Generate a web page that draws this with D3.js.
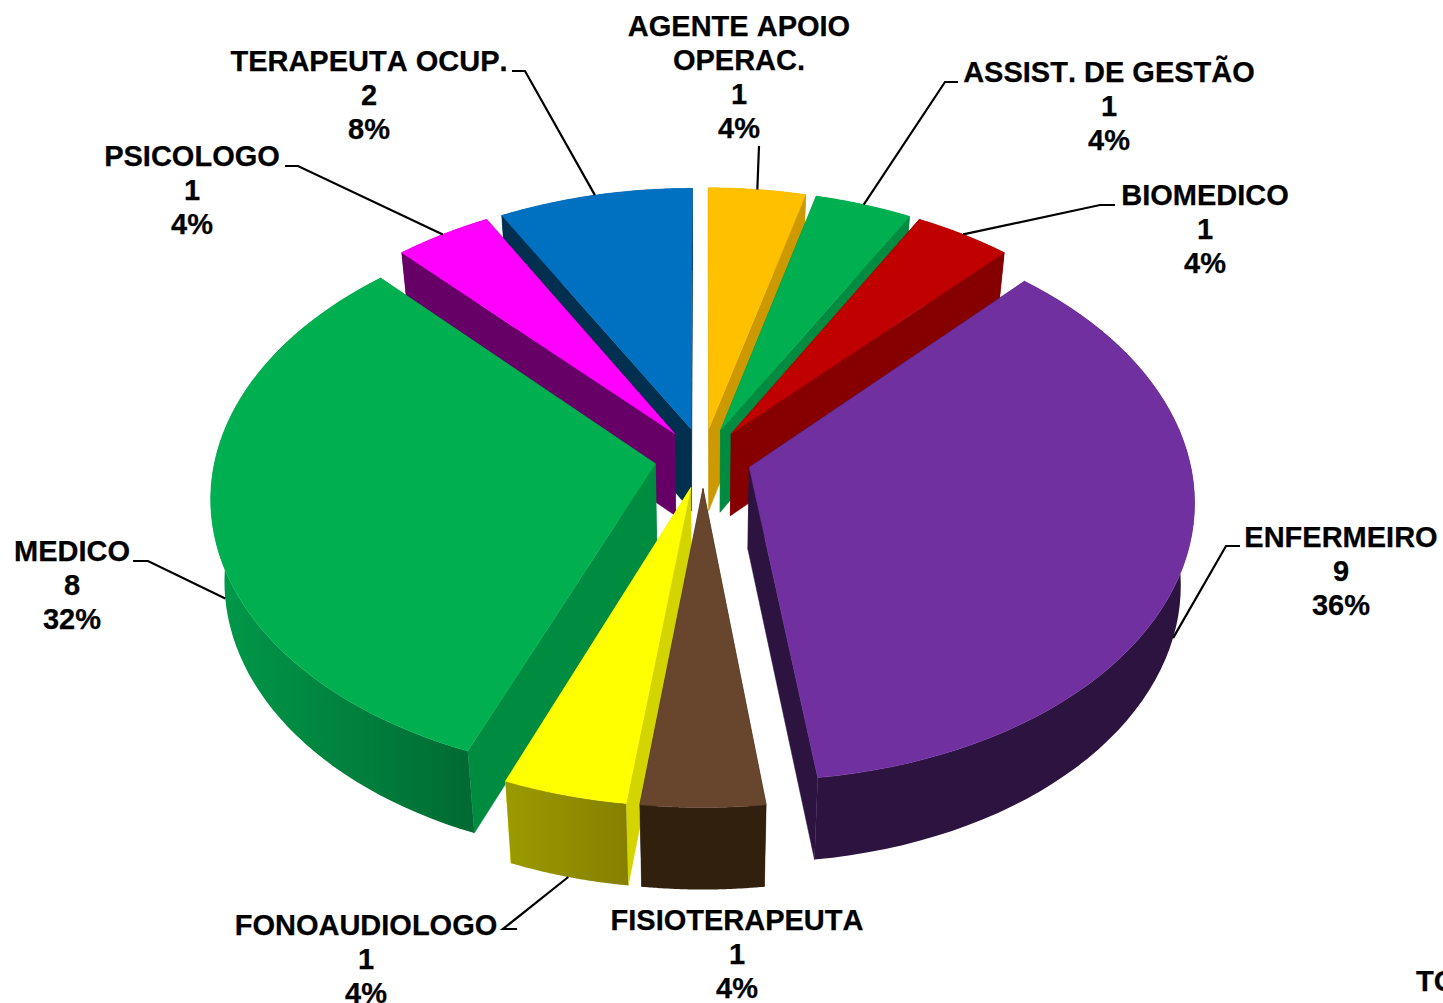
<!DOCTYPE html>
<html><head><meta charset="utf-8">
<script src="https://cdn.jsdelivr.net/npm/d3@7"></script>
<style>
html,body{margin:0;padding:0;background:#fff;overflow:hidden}
svg{display:block}
text{font-family:"Liberation Sans",Arial,sans-serif;font-weight:700;font-size:29px;font-kerning:none;fill:#000;stroke:#000;stroke-width:0.25px;text-anchor:middle}
</style></head><body>
<svg id="c" width="1443" height="1003"></svg>
<script>
// ---- data ----
const categories = ["AGENTE APOIO\nOPERAC.","ASSIST. DE GESTÃO","BIOMEDICO","ENFERMEIRO","FISIOTERAPEUTA","FONOAUDIOLOGO","MEDICO","PSICOLOGO","TERAPEUTA OCUP."];
const counts = [1,1,1,9,1,1,8,1,2];
const percents = ["4%","4%","4%","36%","4%","4%","32%","4%","8%"];
// ---- styles ----
const topColors  = ["#ffc000","#00b050","#c00000","#7030a0","#68452d","#ffff00","#00b050","#ff00ff","#0070c0"];
const cutColors  = ["#cc9900","#008c40","#860000","#2d1440","#32200f","#d4d400","#008c40","#660066","#002f50"];
const wallLeft   = ["#cc9900","#008c40","#860000","#2d1440","#32200f","#9c9a00","#009a4a","#660066","#002f50"];
const wallRight  = ["#cc9900","#008c40","#860000","#2d1440","#32200f","#858000","#006a32","#660066","#002f50"];
// ---- label layout: centre x, first baseline, elbow points, which rim the leader touches ----
const labelX = [739,1109,1205,1341,737,366,72,192,369];
const labelY = [36,82,205,547,930,935,561,166,71];
const leaders = [
  [[759,146]],
  [[958,82],[945,82]],
  [[1115,205],[1100,205]],
  [[1240,546],[1226,546]],
  null,
  [[517,929],[503,929]],
  [[133,561],[148,561]],
  [[285,166],[298,166]],
  [[512,71],[525,71]]
];
const leaderRim = ["top","top","top","bottom","top","bottom","bottom","top","top"];

// ---- projection ----
const cx=703, cy=458, A=440, B=274.7, k=0.115, explode=0.11, depth=82, shrink=0.972;
function project(X,Y,bottom){
  const w=1+k*Y;
  let x=cx+A*X/w, y=cy-B*Y/w;
  if(bottom){ x=cx+(x-cx)*shrink; y+=depth; }
  return [x,y];
}
const pie=d3.pie().sort(null).value(d=>d)(counts);
const svg=d3.select("#c");
const line=d3.line();
const defs=svg.append("defs");

const slices=pie.map((p,i)=>{
  const mid=(p.startAngle+p.endAngle)/2;
  const ox=explode*Math.sin(mid), oy=explode*Math.cos(mid);
  const pt=(a,r,bot)=>project(ox+r*Math.sin(a),oy+r*Math.cos(a),bot);
  const angles=d3.range(0,61).map(t=>p.startAngle+(p.endAngle-p.startAngle)*t/60);
  return {i,mid,oy,pt,angles};
});

// back to front
const order=slices.slice().sort((a,b)=>b.oy-a.oy);
order.forEach(s=>{
  const {i,pt,angles}=s;
  const a0=angles[0], a1=angles[60];
  const g=svg.append("g");
  // radial cut walls
  [a0,a1].forEach(a=>{
    g.append("path").attr("fill",cutColors[i]).attr("stroke",cutColors[i]).attr("stroke-width",0.5)
      .attr("d",line([pt(a,0,false),pt(a,1,false),pt(a,1,true),pt(a,0,true)])+"Z");
  });
  // outer wall
  const topArc=angles.map(a=>pt(a,1,false));
  const botArc=angles.map(a=>pt(a,1,true)).reverse();
  const xs=topArc.concat(botArc).map(d=>d[0]);
  const gid="wall"+i;
  const lg=defs.append("linearGradient").attr("id",gid).attr("gradientUnits","userSpaceOnUse")
    .attr("x1",d3.min(xs)).attr("x2",d3.max(xs)).attr("y1",0).attr("y2",0);
  lg.append("stop").attr("offset",0).attr("stop-color",wallLeft[i]);
  lg.append("stop").attr("offset",1).attr("stop-color",wallRight[i]);
  g.append("path").attr("fill",`url(#${gid})`)
    .attr("d",line(topArc.concat(botArc))+"Z");
  // top face
  g.append("path").attr("fill",topColors[i]).attr("stroke",topColors[i]).attr("stroke-width",0.5)
    .attr("d",line([pt(a0,0,false)].concat(topArc))+"Z");
});

// leaders
slices.forEach(s=>{
  const l=leaders[s.i];
  if(!l) return;
  const end=s.pt(s.mid,1,leaderRim[s.i]==="bottom");
  svg.append("path").attr("fill","none").attr("stroke","#000").attr("stroke-width",2.2)
    .attr("d",line(l.concat([end])));
});

// labels
categories.forEach((c,i)=>{
  const lines=c.split("\n").concat([String(counts[i]),percents[i]]);
  const t=svg.append("text").attr("x",labelX[i]).attr("y",labelY[i]);
  lines.forEach((s,j)=>t.append("tspan").attr("x",labelX[i]).attr("dy",j?34.1:0).text(s));
});
svg.append("text").attr("x",1416).attr("y",991).style("text-anchor","start").text("TOTAL");
</script>
</body></html>
